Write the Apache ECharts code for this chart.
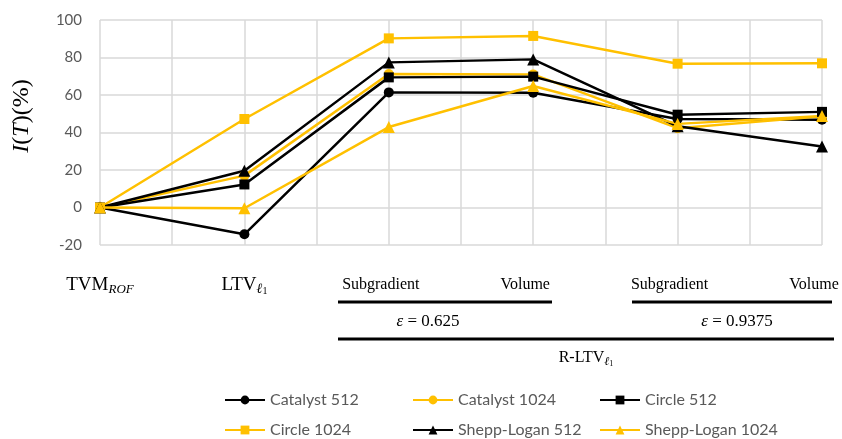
<!DOCTYPE html>
<html>
<head>
<meta charset="utf-8">
<script src="https://cdn.jsdelivr.net/npm/echarts@6/dist/echarts.min.js"></script>
<style>
html,body{margin:0;padding:0;background:#fff;}
#chart{width:842px;height:439px;}
</style>
</head>
<body>
<div id="chart"></div>
<script>
// Categories (x positions of the methods)
const categories = ['TVM_ROF', 'LTV_l1', 'Subgradient', 'Volume', 'Subgradient', 'Volume'];
const yTicks = [-20, 0, 20, 40, 60, 80, 100];

// Series values I(T) in %
const catalyst512   = [0, -14.3, 61.4, 61.2, 47.2, 46.8];
const catalyst1024  = [0, 17.0, 71.2, 71.0, 42.3, 48.6];
const circle512     = [0, 12.3, 69.4, 69.8, 49.5, 51.0];
const circle1024    = [0, 47.2, 90.2, 91.5, 76.7, 76.9];
const shepp512      = [0, 19.6, 77.4, 79.0, 43.3, 32.5];
const shepp1024     = [0, -0.4, 42.9, 64.8, 44.6, 48.8];

const BLACK = '#000000';
const ORANGE = '#FFC000';

// interleave empty gridline slots between categories
const axisData = [];
categories.forEach((c, i) => { axisData.push(c); if (i < categories.length - 1) axisData.push(''); });
function spread(arr) {
  const out = [];
  arr.forEach((v, i) => { out.push(v); if (i < arr.length - 1) out.push(null); });
  return out;
}

const seriesDefs = [
  {name: 'Catalyst 512', data: catalyst512, color: BLACK, symbol: 'circle'},
  {name: 'Catalyst 1024', data: catalyst1024, color: ORANGE, symbol: 'circle'},
  {name: 'Circle 512', data: circle512, color: BLACK, symbol: 'rect'},
  {name: 'Circle 1024', data: circle1024, color: ORANGE, symbol: 'rect'},
  {name: 'Shepp-Logan 512', data: shepp512, color: BLACK, symbol: 'triangle'},
  {name: 'Shepp-Logan 1024', data: shepp1024, color: ORANGE, symbol: 'triangle'}
];

const serif = '"Liberation Serif", "DejaVu Serif", serif';
const sans = 'Lato, "Open Sans", sans-serif';

const chart = echarts.init(document.getElementById('chart'), null, {renderer: 'canvas'});

const legendBase = {
  orient: 'vertical',
  top: 391,
  height: 48,
  padding: 0,
  itemWidth: 40,
  itemHeight: 11,
  itemGap: 12,
  textStyle: {fontFamily: sans, fontSize: 16, color: '#595959', lineHeight: 18}
};

chart.setOption({
  animation: false,
  backgroundColor: '#ffffff',
  grid: {left: 100, right: 20, top: 20, bottom: 194, containLabel: false, outerBoundsMode: 'none'},
  legend: [
    Object.assign({}, legendBase, {left: 224, data: ['Catalyst 512', 'Circle 1024']}),
    Object.assign({}, legendBase, {left: 412, data: ['Catalyst 1024', 'Shepp-Logan 512']}),
    Object.assign({}, legendBase, {left: 599, data: ['Circle 512', 'Shepp-Logan 1024']})
  ],
  xAxis: {
    type: 'category',
    boundaryGap: false,
    data: axisData,
    axisLine: {show: false},
    axisTick: {show: false},
    splitLine: {show: true, lineStyle: {color: '#d9d9d9', width: 1.5}},
    axisLabel: {
      interval: 0,
      margin: 29,
      formatter: function (v, idx) {
        if (v === 'TVM_ROF') return '{a|TVM}{s|ROF}';
        if (v === 'LTV_l1') return '{a|LTV}{l|ℓ}{n|1}';
        if (v === 'Subgradient') return '{c|Subgradient}';
        if (v === 'Volume') return '{c|Volume}';
        return '';
      },
      rich: {
        a: {fontFamily: serif, fontSize: 19, color: '#000', lineHeight: 22},
        c: {fontFamily: serif, fontSize: 16, color: '#000', lineHeight: 22, padding: [0, 16, 0, 0]},
        s: {fontFamily: serif, fontSize: 13, fontStyle: 'italic', color: '#000', padding: [9, 0, 0, 0], lineHeight: 22},
        l: {fontFamily: serif, fontSize: 14, fontStyle: 'italic', color: '#000', padding: [9, 0, 0, 0], lineHeight: 22},
        n: {fontFamily: serif, fontSize: 10, color: '#000', padding: [13, 0, 0, 0], lineHeight: 22}
      }
    }
  },
  yAxis: {
    type: 'value',
    min: -20,
    max: 100,
    interval: 20,
    axisLine: {show: false},
    axisTick: {show: false},
    splitLine: {show: true, lineStyle: {color: '#d9d9d9', width: 1.5}},
    axisLabel: {
      margin: 18,
      fontFamily: sans,
      fontSize: 15,
      color: '#595959',
      formatter: function (v) { return yTicks.indexOf(v) >= 0 ? String(v) : ''; }
    }
  },
  series: seriesDefs.map(s => ({
    name: s.name,
    type: 'line',
    data: spread(s.data),
    connectNulls: true,
    symbol: s.symbol,
    symbolSize: s.symbol === 'triangle' ? 12 : 10,
    showAllSymbol: true,
    lineStyle: {color: s.color, width: 2.5},
    itemStyle: {color: s.color},
    emphasis: {disabled: true}
  })),
  graphic: [
    {type: 'text', x: 22, y: 116, rotation: Math.PI / 2,
     style: {text: '{i|I}{r|(}{i|T}{r|)(%)}', textAlign: 'center', textVerticalAlign: 'middle',
       rich: {i: {fontFamily: serif, fontSize: 24, fontStyle: 'italic', fill: '#000'},
              r: {fontFamily: serif, fontSize: 24, fill: '#000'}}}},
    {type: 'line', shape: {x1: 338, y1: 302, x2: 552, y2: 302}, style: {stroke: '#000', lineWidth: 3}},
    {type: 'line', shape: {x1: 632, y1: 302, x2: 832, y2: 302}, style: {stroke: '#000', lineWidth: 3}},
    {type: 'line', shape: {x1: 338, y1: 339, x2: 834, y2: 339}, style: {stroke: '#000', lineWidth: 3}},
    {type: 'text', x: 428, y: 322,
     style: {text: '{i|ε} = 0.625', textAlign: 'center', textVerticalAlign: 'middle',
       font: '17px ' + serif, fill: '#000',
       rich: {i: {fontFamily: serif, fontSize: 17, fontStyle: 'italic', fill: '#000'}}}},
    {type: 'text', x: 737, y: 322,
     style: {text: '{i|ε} = 0.9375', textAlign: 'center', textVerticalAlign: 'middle',
       font: '17px ' + serif, fill: '#000',
       rich: {i: {fontFamily: serif, fontSize: 17, fontStyle: 'italic', fill: '#000'}}}},
    {type: 'text', x: 586, y: 358,
     style: {text: '{a|R-LTV}{l|ℓ}{n|1}', textAlign: 'center', textVerticalAlign: 'middle',
       rich: {a: {fontFamily: serif, fontSize: 16, fill: '#000', lineHeight: 20},
              l: {fontFamily: serif, fontSize: 12, fontStyle: 'italic', fill: '#000', padding: [8, 0, 0, 0], lineHeight: 20},
              n: {fontFamily: serif, fontSize: 8, fill: '#000', padding: [12, 0, 0, 0], lineHeight: 20}}}}
  ]
});
</script>
</body>
</html>
